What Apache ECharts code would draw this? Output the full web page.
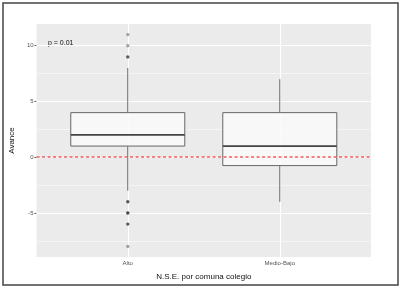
<!DOCTYPE html>
<html><head><meta charset="utf-8">
<script src="https://cdn.jsdelivr.net/npm/echarts@6/dist/echarts.min.js"></script>
<style>html,body{margin:0;padding:0;background:#fff}#c{width:402px;height:290px}</style>
</head><body><div id="c"></div>
<script>
// ---- data ----
var categories = ['Alto', 'Medio-Bajo'];
// [lower whisker, Q1, median, Q3, upper whisker]
var boxStats = [
  [-3, 1, 2, 4, 8],
  [-4, -0.75, 1, 4, 7]
];
// outliers: [category index, value, overplot count]
var outliers = [
  [0, 11, 1], [0, 10, 1], [0, 9, 2],
  [0, -4, 2], [0, -5, 3], [0, -6, 2], [0, -8, 1]
];
var yMajorTicks = [-5, 0, 5, 10];
var yMinorTicks = [-7.5, -2.5, 2.5, 7.5];
var refLine = 0;
var pLabel = 'p = 0.01';
var yTitle = 'Avance';
var xTitle = 'N.S.E. por comuna colegio';

var FONT = '"Liberation Sans", Arial, sans-serif';
var chart = echarts.init(document.getElementById('c'), null, {renderer: 'canvas'});

var boxData = boxStats.map(function (s, i) { return [i + 1].concat(s); });
var outData = outliers.map(function (o) { return [o[0] + 1, o[1], o[2]]; });

function gridLines(vals, width) {
  return vals.map(function (v) { return {yAxis: v, lineStyle: {width: width}}; });
}

var option = {
  animation: false,
  grid: {left: 33, top: 24, width: 338, height: 233, show: true,
         backgroundColor: '#EBEBEB', borderWidth: 0, containLabel: false},
  xAxis: {
    type: 'value', min: 0.4, max: 2.6,
    axisLine: {show: false},
    axisTick: {show: true, length: 2, lineStyle: {color: '#555'}, customValues: [1, 2]},
    axisLabel: {customValues: [1, 2], formatter: function (v) { return categories[Math.round(v) - 1] || ''; },
                color: '#555', fontSize: 6, fontFamily: FONT, margin: 3},
    splitLine: {show: false},
    name: xTitle, nameLocation: 'middle', nameGap: 16,
    nameTextStyle: {color: '#111', fontSize: 8, fontFamily: FONT}
  },
  yAxis: {
    type: 'value', min: -8.95, max: 11.95,
    axisLine: {show: false},
    axisTick: {show: true, length: 2, lineStyle: {color: '#555'}, customValues: yMajorTicks},
    axisLabel: {customValues: yMajorTicks, color: '#555', fontSize: 6, fontFamily: FONT, margin: 3},
    splitLine: {show: false},
    name: yTitle, nameLocation: 'middle', nameGap: 17, nameRotate: 90,
    nameTextStyle: {color: '#111', fontSize: 8, fontFamily: FONT}
  },
  series: [
    { // grid lines
      type: 'line', data: [], silent: true, z: 1,
      markLine: {
        silent: true, symbol: 'none', label: {show: false}, z: 1,
        lineStyle: {color: '#fff', type: 'solid'},
        data: gridLines(yMinorTicks, 0.5).concat(gridLines(yMajorTicks, 1))
          .concat(categories.map(function (c, i) { return {xAxis: i + 1, lineStyle: {width: 1}}; }))
      }
    },
    { // boxes
      type: 'custom', z: 3, data: boxData,
      renderItem: function (params, api) {
        var x = api.value(0);
        var hw = 0.375;
        var lo = api.coord([x, api.value(1)]);
        var q1 = api.coord([x, api.value(2)]);
        var md = api.coord([x, api.value(3)]);
        var q3 = api.coord([x, api.value(4)]);
        var hi = api.coord([x, api.value(5)]);
        var left = api.coord([x - hw, 0])[0];
        var right = api.coord([x + hw, 0])[0];
        var lc = '#666';
        return {type: 'group', children: [
          {type: 'line', shape: {x1: hi[0], y1: hi[1], x2: q3[0], y2: q3[1]}, style: {stroke: lc, lineWidth: 1}},
          {type: 'line', shape: {x1: q1[0], y1: q1[1], x2: lo[0], y2: lo[1]}, style: {stroke: lc, lineWidth: 1}},
          {type: 'rect', shape: {x: left, y: q3[1], width: right - left, height: q1[1] - q3[1]},
           style: {fill: 'rgba(250,250,250,0.85)', stroke: lc, lineWidth: 1}},
          {type: 'line', shape: {x1: left, y1: md[1], x2: right, y2: md[1]}, style: {stroke: '#444', lineWidth: 1.8}}
        ]};
      }
    },
    { // outliers
      type: 'scatter', z: 4, data: outData, symbolSize: 3.4,
      itemStyle: {color: function (p) { var n = p.data[2]; return n >= 3 ? '#1a1a1a' : (n === 2 ? '#333' : '#8c8c8c'); }}
    },
    { // reference line
      type: 'line', data: [], z: 5,
      markLine: {silent: true, symbol: 'none', label: {show: false}, z: 6,
        lineStyle: {color: '#F25C5C', type: [3, 2.5], width: 1.5},
        data: [{yAxis: refLine}]}
    }
  ],
  graphic: [
    {type: 'text', left: 48, top: 40, style: {text: pLabel, fill: '#111', fontSize: 7, fontFamily: FONT}},
    {type: 'rect', shape: {x: 3, y: 3, width: 395, height: 282}, style: {fill: 'none', stroke: '#444', lineWidth: 1.5}, z: 10}
  ]
};
chart.setOption(option);
</script></body></html>
